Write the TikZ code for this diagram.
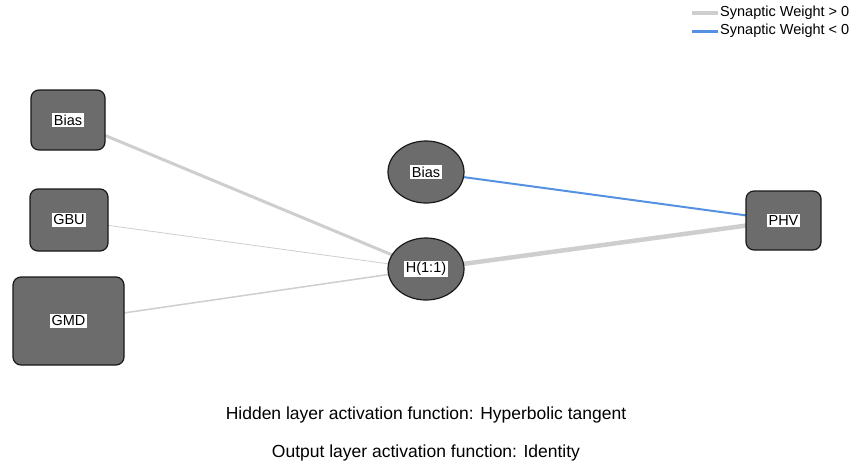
\documentclass[tikz,border=0pt]{standalone}
\usepackage{fontspec}
\setmainfont{Liberation Sans}
\usepackage{xcolor}
\usepackage{tikz}
\usetikzlibrary{shapes.geometric}

\definecolor{unitgray}{RGB}{108,108,108}
\definecolor{posgray}{RGB}{206,206,206}
\definecolor{negblue}{RGB}{84,145,226}

\newcommand{\wlabel}[1]{{\setlength{\fboxsep}{1.5pt}\colorbox{white}{#1}}}

\tikzset{
    unitbox/.style={rectangle,rounded corners=8pt,draw=black!90,line width=1.2pt,fill=unitgray,inner sep=0pt},
    unitoval/.style={ellipse,draw=black!90,line width=1.2pt,fill=unitgray,inner sep=0pt,minimum width=76pt,minimum height=62pt},
    posw/.style={draw=posgray},
    negw/.style={draw=negblue}
}

\begin{document}
\begin{tikzpicture}[x=1pt,y=-1pt,font=\fontsize{14.5}{17}\selectfont]
    \useasboundingbox (0,0) rectangle (857,469);

    % weights (drawn first, units go on top)
    \coordinate (cbin) at (68,120);
    \coordinate (cgbu) at (69,220);
    \coordinate (cgmd) at (68.5,321);
    \coordinate (cbhid) at (426,172);
    \coordinate (ch11) at (426,269);
    \coordinate (cphv) at (783.5,220.5);
    \draw[posw,line width=3pt] (cbin) -- (ch11);
    \draw[posw,line width=0.8pt] (cgbu) -- (ch11);
    \draw[posw,line width=1.5pt] (cgmd) -- (ch11);
    \draw[posw,line width=4.5pt] (ch11) -- (cphv);
    \draw[negw,line width=2pt] (cbhid) -- (cphv);

    % input layer
    \node[unitbox,minimum width=74pt,minimum height=60pt] (bin) at (cbin) {\wlabel{Bias}};
    \node[unitbox,minimum width=78pt,minimum height=62pt] (gbu) at (cgbu) {\wlabel{GBU}};
    \node[unitbox,minimum width=111pt,minimum height=88pt] (gmd) at (cgmd) {\wlabel{GMD}};

    % hidden layer
    \node[unitoval] (bhid) at (cbhid) {\wlabel{Bias}};
    \node[unitoval] (h11) at (ch11) {\wlabel{H(1:1)}};

    % output layer
    \node[unitbox,minimum width=75pt,minimum height=59pt] (phv) at (cphv) {\wlabel{PHV}};

    % legend
    \coordinate (lp1) at (692,13);
    \coordinate (lp2) at (718,13);
    \coordinate (ln1) at (692,31);
    \coordinate (ln2) at (718,31);
    \draw[posw,line width=4pt] (lp1) -- (lp2);
    \draw[negw,line width=3pt] (ln1) -- (ln2);
    \node[anchor=west,inner sep=2pt] (lpos) at (lp2) {Synaptic Weight > 0};
    \node[anchor=west,inner sep=2pt] (lneg) at (ln2) {Synaptic Weight < 0};

    \node[font=\fontsize{17.5}{20}\selectfont] (hact) at (426,414.5) {Hidden layer activation function: Hyperbolic tangent};
    \node[font=\fontsize{17.5}{20}\selectfont] (oact) at (426,452.5) {Output layer activation function: Identity};
\end{tikzpicture}
\end{document}
